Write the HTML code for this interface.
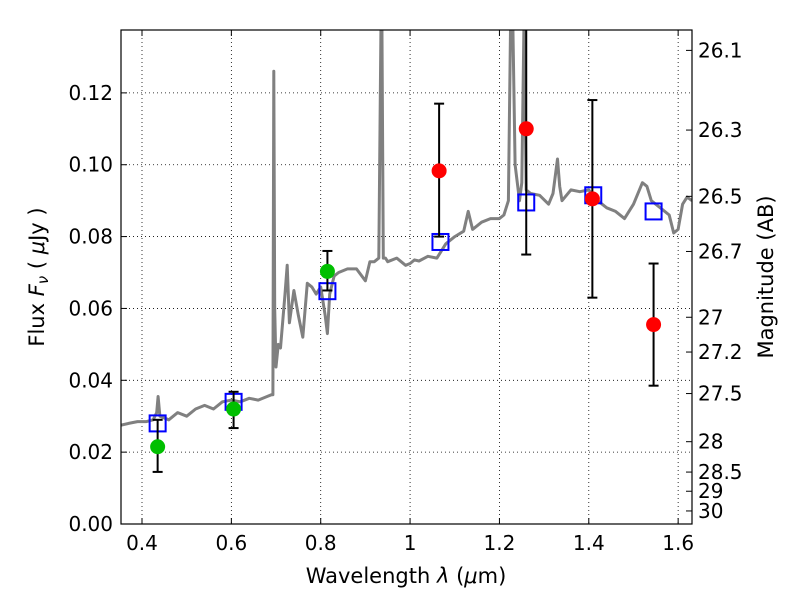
<!DOCTYPE html>
<html><head><meta charset="utf-8"><style>
body{margin:0;background:#fff;}
svg text{font-family:"DejaVu Sans","Liberation Sans",sans-serif;fill:#000;}
</style></head><body>
<svg id="chart" width="800" height="600" xmlns="http://www.w3.org/2000/svg">
<rect width="800" height="600" fill="#fff"/>
<g id="grid"></g>
<g id="spec"></g>
<g id="marks"></g>
<rect x="121" y="30" width="571" height="494" fill="none" stroke="#000" stroke-width="1.2"/>
<g id="axes"></g>
<text x="406" y="583" font-size="21" text-anchor="middle">Wavelength  <tspan font-style="italic">λ</tspan> (<tspan font-style="italic">μ</tspan>m)</text>
<text transform="translate(44,277) rotate(-90)" font-size="21" text-anchor="middle">Flux  <tspan font-style="italic">F</tspan><tspan font-style="italic" font-size="15" dy="4">ν</tspan><tspan dy="-4">  (  </tspan><tspan font-style="italic">μ</tspan>Jy )</text>
<text transform="translate(773,277) rotate(-90)" font-size="21" text-anchor="middle">Magnitude (AB)</text>
</svg>
<script>
const xTicks=[0.4,0.6,0.8,1.0,1.2,1.4,1.6];
const xTickLabels=["0.4","0.6","0.8","1","1.2","1.4","1.6"];
const yTicks=[0,0.02,0.04,0.06,0.08,0.10,0.12];
const yTickLabels=["0.00","0.02","0.04","0.06","0.08","0.10","0.12"];
const magTicks=[26.1,26.3,26.5,26.7,27,27.2,27.5,28,28.5,29,30];
const magLabels=["26.1","26.3","26.5","26.7","27","27.2","27.5","28","28.5","29","30"];
const specWave=[0.353,0.37,0.39,0.41,0.425,0.433,0.436,0.44,0.46,0.48,0.5,0.52,0.54,0.56,0.58,0.6,0.62,0.64,0.66,0.68,0.69,0.693,0.695,0.697,0.70,0.705,0.71,0.72,0.725,0.73,0.74,0.75,0.76,0.77,0.78,0.79,0.80,0.81,0.815,0.82,0.83,0.84,0.86,0.88,0.90,0.91,0.92,0.93,0.935,0.937,0.94,0.945,0.95,0.97,0.99,1.0,1.01,1.02,1.04,1.06,1.08,1.1,1.12,1.13,1.14,1.16,1.18,1.2,1.21,1.22,1.225,1.23,1.235,1.24,1.245,1.25,1.255,1.26,1.27,1.29,1.31,1.32,1.33,1.335,1.34,1.36,1.38,1.4,1.42,1.44,1.46,1.48,1.5,1.52,1.53,1.54,1.56,1.58,1.59,1.6,1.61,1.62,1.631];
const specFlux=[0.0275,0.028,0.0285,0.0285,0.029,0.031,0.0355,0.03,0.029,0.031,0.030,0.032,0.033,0.032,0.034,0.0345,0.034,0.035,0.0345,0.0355,0.036,0.036,0.126,0.06,0.0437,0.05,0.049,0.064,0.072,0.056,0.065,0.058,0.052,0.067,0.066,0.064,0.066,0.058,0.053,0.064,0.069,0.070,0.071,0.071,0.0677,0.073,0.073,0.074,0.14,0.14,0.074,0.074,0.073,0.074,0.072,0.0725,0.0735,0.0732,0.0745,0.074,0.078,0.080,0.0815,0.087,0.082,0.084,0.085,0.085,0.086,0.09,0.14,0.14,0.10,0.095,0.09,0.095,0.14,0.093,0.092,0.0915,0.089,0.092,0.1016,0.094,0.09,0.093,0.0925,0.093,0.09,0.088,0.087,0.085,0.089,0.095,0.094,0.09,0.088,0.086,0.081,0.082,0.089,0.091,0.09];
const detWave=[0.435,0.605,0.815];
const detFlux=[0.0215,0.032,0.0703];
const detLo=[0.0145,0.0267,0.065];
const detHi=[0.029,0.0368,0.076];
const ulWave=[1.065,1.26,1.408,1.545];
const ulFlux=[0.0983,0.110,0.0905,0.0555];
const ulLo=[0.080,0.075,0.063,0.0385];
const ulHi=[0.117,0.145,0.118,0.0725];
const modWave=[0.435,0.605,0.815,1.068,1.26,1.41,1.545];
const modFlux=[0.028,0.034,0.0648,0.0785,0.0895,0.0915,0.087];

const X0=121,X1=692,Y0=30,Y1=524;
const xmin=0.353,xmax=1.631,ymin=0,ymax=0.1375;
const sx=v=>X0+(v-xmin)/(xmax-xmin)*(X1-X0);
const sy=v=>Y1-(v-ymin)/(ymax-ymin)*(Y1-Y0);
const NS='http://www.w3.org/2000/svg';
function mk(tag,parent,attrs){const e=document.createElementNS(NS,tag);for(const k in attrs)e.setAttribute(k,attrs[k]);parent.appendChild(e);return e;}
const grid=document.getElementById('grid'),axes=document.getElementById('axes'),spec=document.getElementById('spec'),marks=document.getElementById('marks');
xTicks.forEach((t,i)=>{const x=sx(t);
 const g=mk('line',grid,{x1:x,x2:x,y1:Y0,y2:Y1,stroke:'#000','stroke-width':0.8,'stroke-dasharray':'1,3'});
 
 
 mk('line',axes,{x1:x,x2:x,y1:Y1,y2:Y1-6,stroke:'#000'});
 mk('line',axes,{x1:x,x2:x,y1:Y0,y2:Y0+6,stroke:'#000'});
 const tx=mk('text',axes,{x:x,y:Y1+26,'font-size':20,'text-anchor':'middle'});tx.textContent=xTickLabels[i];
 
 
});
yTicks.forEach((t,i)=>{const y=sy(t);
 const g=mk('line',grid,{x1:X0,x2:X1,y1:y,y2:y,stroke:'#000','stroke-width':0.8,'stroke-dasharray':'1,3'});
 
 
 mk('line',axes,{x1:X0,x2:X0+6,y1:y,y2:y,stroke:'#000'});
 const tx=mk('text',axes,{x:X0-8,y:y+7,'font-size':20,'text-anchor':'end'});tx.textContent=yTickLabels[i];
 
 
});
magTicks.forEach((m,i)=>{const y=sy(Math.pow(10,(23.9-m)/2.5));
 mk('line',axes,{x1:X1-6,x2:X1,y1:y,y2:y,stroke:'#000'});
 const tx=mk('text',axes,{x:X1+6,y:y+7,'font-size':20});tx.textContent=magLabels[i];
 
 
});
let d='';specWave.forEach((w,i)=>{d+=(i?'L':'M')+sx(w).toFixed(1)+','+sy(Math.min(specFlux[i],0.14)).toFixed(1);});
const p=mk('path',spec,{d:d,fill:'none',stroke:'#808080','stroke-width':3,'stroke-linejoin':'round'});


const defs=mk('clipPath',document.getElementById('chart'),{id:'clip'});mk('rect',defs,{x:X0,y:Y0,width:X1-X0,height:Y1-Y0});
spec.setAttribute('clip-path','url(#clip)');marks.setAttribute('clip-path','url(#clip)');
function errbar(w,lo,hi){const x=sx(w);
 mk('line',marks,{x1:x,x2:x,y1:sy(lo),y2:sy(hi),stroke:'#000','stroke-width':2});
 mk('line',marks,{x1:x-5,x2:x+5,y1:sy(lo),y2:sy(lo),stroke:'#000','stroke-width':2});
 mk('line',marks,{x1:x-5,x2:x+5,y1:sy(hi),y2:sy(hi),stroke:'#000','stroke-width':2});}
modWave.forEach((w,i)=>{const s=mk('rect',marks,{x:sx(w)-8,y:sy(modFlux[i])-8,width:16,height:16,fill:'none',stroke:'#0000ff','stroke-width':2});
 
 });
detWave.forEach((w,i)=>{errbar(w,detLo[i],detHi[i]);
 const c=mk('circle',marks,{cx:sx(w),cy:sy(detFlux[i]),r:7.5,fill:'#00bf00'});
 
 });
ulWave.forEach((w,i)=>{errbar(w,ulLo[i],ulHi[i]);
 const c=mk('circle',marks,{cx:sx(w),cy:sy(ulFlux[i]),r:7.5,fill:'#ff0000'});
 
 });
</script>
</body></html>
